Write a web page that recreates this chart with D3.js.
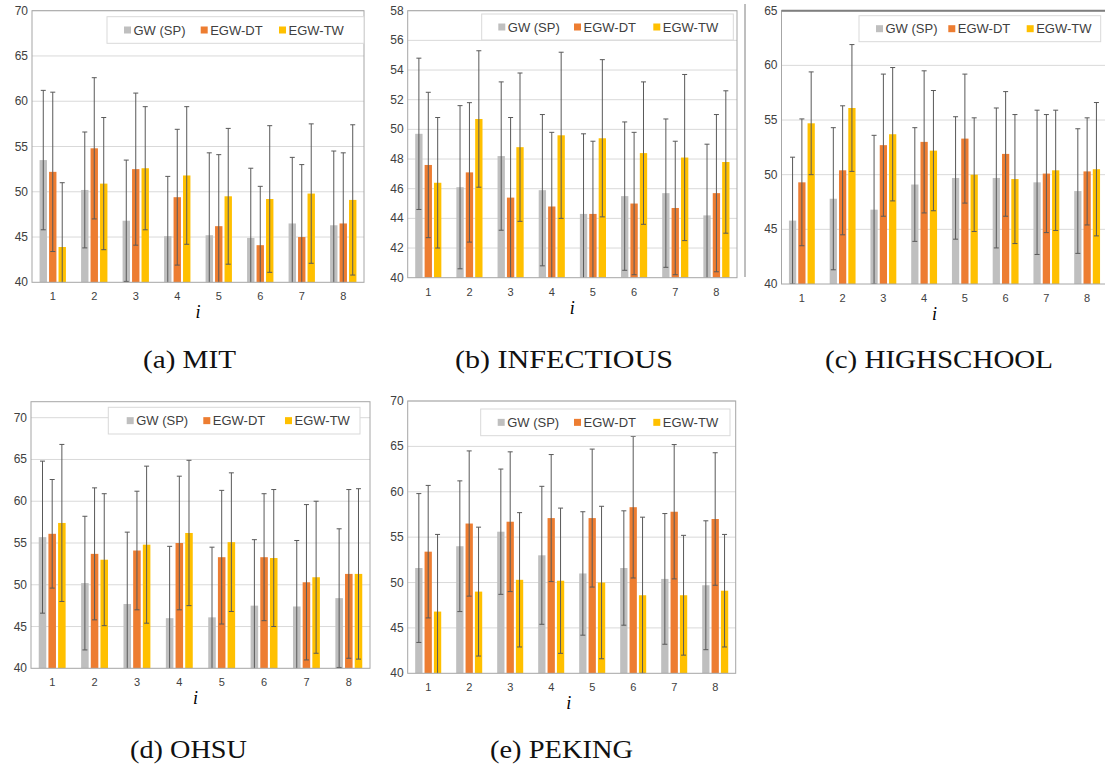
<html>
<head>
<title>GW vs EGW comparison</title>
<script src="https://d3js.org/d3.v7.min.js"></script>
<style>
  body { margin: 0; background: #fff; }
  text { font-family: "Liberation Sans", Arial, sans-serif; }
</style>
</head>
<body>
<script>
// categories and series
var categories = [1, 2, 3, 4, 5, 6, 7, 8];
var seriesNames = ["GW (SP)", "EGW-DT", "EGW-TW"];
var seriesColors = ["#BFBFBF", "#ED7D31", "#FFC000"];

// (a) MIT
var mitGW = [53.5, 50.2, 46.8, 45.1, 45.2, 44.9, 46.5, 46.3];
var mitGWerr = [7.7, 6.4, 6.7, 6.6, 9.1, 7.7, 7.3, 8.2];
var mitDT = [52.2, 54.8, 52.5, 49.4, 46.2, 44.1, 45.0, 46.5];
var mitDTerr = [8.8, 7.8, 8.4, 7.5, 7.9, 6.5, 8.0, 7.8];
var mitTW = [43.9, 50.9, 52.6, 51.8, 49.5, 49.2, 49.8, 49.1];
var mitTWerr = [7.1, 7.3, 6.8, 7.6, 7.5, 8.1, 7.7, 8.3];

// (b) INFECTIOUS
var infGW = [49.7, 46.1, 48.2, 45.9, 44.3, 45.5, 45.7, 44.2];
var infGWerr = [5.1, 5.5, 5.0, 5.1, 5.4, 5.0, 5.0, 4.8];
var infDT = [47.6, 47.1, 45.4, 44.8, 44.3, 45.0, 44.7, 45.7];
var infDTerr = [4.9, 4.7, 5.4, 5.0, 4.9, 4.8, 4.5, 5.3];
var infTW = [46.4, 50.7, 48.8, 49.6, 49.4, 48.4, 48.1, 47.8];
var infTWerr = [4.4, 4.6, 5.0, 5.6, 5.3, 4.8, 5.6, 4.8];

// (c) HIGHSCHOOL
var hsGW = [45.8, 47.8, 46.8, 49.1, 49.7, 49.7, 49.3, 48.5];
var hsGWerr = [5.8, 6.5, 6.8, 5.2, 5.6, 6.4, 6.6, 5.7];
var hsDT = [49.3, 50.4, 52.7, 53.0, 53.3, 51.9, 50.1, 50.3];
var hsDTerr = [5.8, 5.9, 6.5, 6.5, 5.9, 5.7, 5.4, 4.9];
var hsTW = [54.7, 56.1, 53.7, 52.2, 50.0, 49.6, 50.4, 50.5];
var hsTWerr = [4.7, 5.8, 6.1, 5.5, 5.2, 5.9, 5.5, 6.1];

// (d) OHSU
var ohGW = [55.7, 50.2, 47.7, 46.0, 46.1, 47.5, 47.4, 48.4];
var ohGWerr = [9.1, 8.0, 8.6, 8.6, 8.4, 7.9, 7.9, 8.3];
var ohDT = [56.1, 53.7, 54.1, 55.0, 53.3, 53.3, 50.3, 51.3];
var ohDTerr = [6.5, 7.9, 7.1, 8.0, 8.0, 7.6, 9.3, 10.1];
var ohTW = [57.4, 53.0, 54.8, 56.2, 55.1, 53.2, 50.9, 51.3];
var ohTWerr = [9.4, 7.9, 9.4, 8.7, 8.3, 8.2, 9.1, 10.2];

// (e) PEKING
var pkGW = [51.6, 54.0, 55.6, 53.0, 51.0, 51.6, 50.4, 49.7];
var pkGWerr = [8.2, 7.2, 6.9, 7.6, 6.8, 6.3, 7.2, 7.1];
var pkDT = [53.4, 56.5, 56.7, 57.1, 57.1, 58.3, 57.8, 57.0];
var pkDTerr = [7.3, 8.0, 7.7, 7.0, 7.6, 7.8, 7.4, 7.3];
var pkTW = [46.8, 49.0, 50.3, 50.2, 50.0, 48.6, 48.6, 49.1];
var pkTWerr = [8.5, 7.1, 7.4, 8.0, 8.4, 8.6, 6.6, 6.2];

var svg = d3.select("body").append("svg")
  .attr("width", 1105).attr("height", 771);

var clipId = 0;

function drawPanel(p, means, errs) {
  var g = svg.append("g");
  var y = d3.scaleLinear().domain(p.domain).range([p.bottom, p.top]);
  var x = d3.scaleBand().domain(categories).range([p.left, p.right]);
  var xs = d3.scaleBand().domain(seriesNames).range([0, x.bandwidth()])
             .paddingInner(0.22).paddingOuter(0.8);
  var ticks = d3.range(p.domain[0], p.domain[1] + 0.001, p.step);

  // gridlines
  g.selectAll(".grid").data(ticks.slice(1)).enter().append("line")
    .attr("x1", p.left).attr("x2", p.right)
    .attr("y1", function(d){ return y(d); }).attr("y2", function(d){ return y(d); })
    .attr("stroke", "#D9D9D9").attr("stroke-width", 1);

  // y tick labels
  g.selectAll(".ylab").data(ticks).enter().append("text")
    .attr("x", p.left - 4).attr("y", function(d){ return y(d) + 4; })
    .attr("text-anchor", "end").attr("font-size", 12).attr("fill", "#404040")
    .text(function(d){ return d; });

  // bars and error bars, clipped to the plot area
  clipId++;
  svg.append("clipPath").attr("id", "c" + clipId).append("rect")
    .attr("x", p.left).attr("y", p.frameTop)
    .attr("width", p.right - p.left).attr("height", p.bottom - p.frameTop);
  var plot = g.append("g").attr("clip-path", "url(#c" + clipId + ")");

  seriesNames.forEach(function(s, k) {
    var vals = means[k], er = errs[k];
    plot.selectAll(".bar" + k).data(categories).enter().append("rect")
      .attr("x", function(d){ return x(d) + xs(s); })
      .attr("width", xs.bandwidth())
      .attr("y", function(d, i){ return y(vals[i]); })
      .attr("height", function(d, i){ return y(p.domain[0]) - y(vals[i]); })
      .attr("fill", seriesColors[k]);
    var cx = function(d){ return x(d) + xs(s) + xs.bandwidth() / 2; };
    plot.selectAll(".eb" + k).data(categories).enter().append("line")
      .attr("x1", cx).attr("x2", cx)
      .attr("y1", function(d, i){ return y(vals[i] + er[i]); })
      .attr("y2", function(d, i){ return y(vals[i] - er[i]); })
      .attr("stroke", "#595959").attr("stroke-width", 1);
    [1, -1].forEach(function(sg) {
      plot.selectAll(".cap" + k + sg).data(categories).enter().append("line")
        .attr("x1", function(d){ return cx(d) - 2.5; })
        .attr("x2", function(d){ return cx(d) + 2.5; })
        .attr("y1", function(d, i){ return y(vals[i] + sg * er[i]); })
        .attr("y2", function(d, i){ return y(vals[i] + sg * er[i]); })
        .attr("stroke", "#595959").attr("stroke-width", 1);
    });
  });

  // frame
  g.append("rect").attr("x", p.left).attr("y", p.frameTop)
    .attr("width", p.right - p.left).attr("height", p.bottom - p.frameTop)
    .attr("fill", "none").attr("stroke", "#A6A6A6").attr("stroke-width", 1);
  if (p.darkTop) {
    g.append("line").attr("x1", p.left).attr("x2", p.right)
      .attr("y1", p.frameTop).attr("y2", p.frameTop)
      .attr("stroke", "#7F7F7F").attr("stroke-width", 2);
  }

  // x tick labels
  g.selectAll(".xlab").data(categories).enter().append("text")
    .attr("x", function(d){ return x(d) + x.bandwidth() / 2; })
    .attr("y", p.bottom + 18)
    .attr("text-anchor", "middle").attr("font-size", 11).attr("fill", "#404040")
    .text(function(d){ return d; });

  g.append("text").attr("x", (p.left + p.right) / 2 + p.iShift).attr("y", p.bottom + 36)
    .attr("text-anchor", "middle").attr("font-size", 18)
    .attr("font-style", "italic").style("font-family", "'Liberation Serif', serif")
    .text("i");

  // legend
  var L = p.legend;
  g.append("rect").attr("x", L.x0).attr("y", L.y0)
    .attr("width", L.x1 - L.x0).attr("height", L.y1 - L.y0)
    .attr("fill", "#fff").attr("stroke", "#D9D9D9");
  seriesNames.forEach(function(s, k) {
    g.append("rect").attr("x", L.sq[k]).attr("y", (L.y0 + L.y1) / 2 - 3.5)
      .attr("width", 7).attr("height", 7).attr("fill", seriesColors[k]);
    g.append("text").attr("x", L.sq[k] + 9.5).attr("y", (L.y0 + L.y1) / 2 + 4.5)
      .attr("font-size", 13).attr("fill", "#404040").text(s);
  });

  // caption
  svg.append("text").attr("x", p.capX).attr("y", p.capY)
    .attr("text-anchor", "middle").attr("font-size", 26)
    .attr("textLength", p.capW).attr("lengthAdjust", "spacingAndGlyphs")
    .style("font-family", "'Liberation Serif', serif").attr("fill", "#111")
    .text(p.caption);
}

drawPanel({left: 32, right: 364, top: 10.7, bottom: 282.3, frameTop: 10.7, domain: [40, 70], step: 5,
  iShift: 0, legend: {x0: 107, x1: 364, y0: 16.7, y1: 43.3, sq: [124, 200.7, 279]},
  caption: "(a) MIT", capX: 189.5, capY: 368, capW: 93},
  [mitGW, mitDT, mitTW], [mitGWerr, mitDTerr, mitTWerr]);

drawPanel({left: 407.7, right: 737, top: 10.7, bottom: 277.7, frameTop: 10.7, domain: [40, 58], step: 2,
  iShift: 0, legend: {x0: 481.7, x1: 733.3, y0: 14, y1: 40, sq: [498.3, 574, 653.3]},
  caption: "(b) INFECTIOUS", capX: 564, capY: 368, capW: 218},
  [infGW, infDT, infTW], [infGWerr, infDTerr, infTWerr]);

// outer border of panel (b) chart area
svg.append("line").attr("x1", 745).attr("x2", 745).attr("y1", 4).attr("y2", 277)
  .attr("stroke", "#7F7F7F").attr("stroke-width", 1);

drawPanel({left: 781.5, right: 1107.5, top: 10.7, bottom: 284, frameTop: 10.7, domain: [40, 65], step: 5,
  iShift: -10, darkTop: true, legend: {x0: 859, x1: 1100.7, y0: 15.7, y1: 41.7, sq: [876, 948.3, 1026.7]},
  caption: "(c) HIGHSCHOOL", capX: 939, capY: 368, capW: 228},
  [hsGW, hsDT, hsTW], [hsGWerr, hsDTerr, hsTWerr]);

drawPanel({left: 31, right: 370, top: 417.7, bottom: 668.3, frameTop: 401.7, domain: [40, 70], step: 5,
  iShift: -5, legend: {x0: 108.3, x1: 360, y0: 407.3, y1: 434, sq: [126.7, 203.3, 285]},
  caption: "(d) OHSU", capX: 188.5, capY: 758, capW: 117},
  [ohGW, ohDT, ohTW], [ohGWerr, ohDTerr, ohTWerr]);

drawPanel({left: 407.7, right: 735.7, top: 401, bottom: 673.3, frameTop: 401, domain: [40, 70], step: 5,
  iShift: -3, legend: {x0: 480.7, x1: 730, y0: 409, y1: 435.7, sq: [497.7, 574, 653.3]},
  caption: "(e) PEKING", capX: 561.5, capY: 758, capW: 143},
  [pkGW, pkDT, pkTW], [pkGWerr, pkDTerr, pkTWerr]);
</script>
</body>
</html>
